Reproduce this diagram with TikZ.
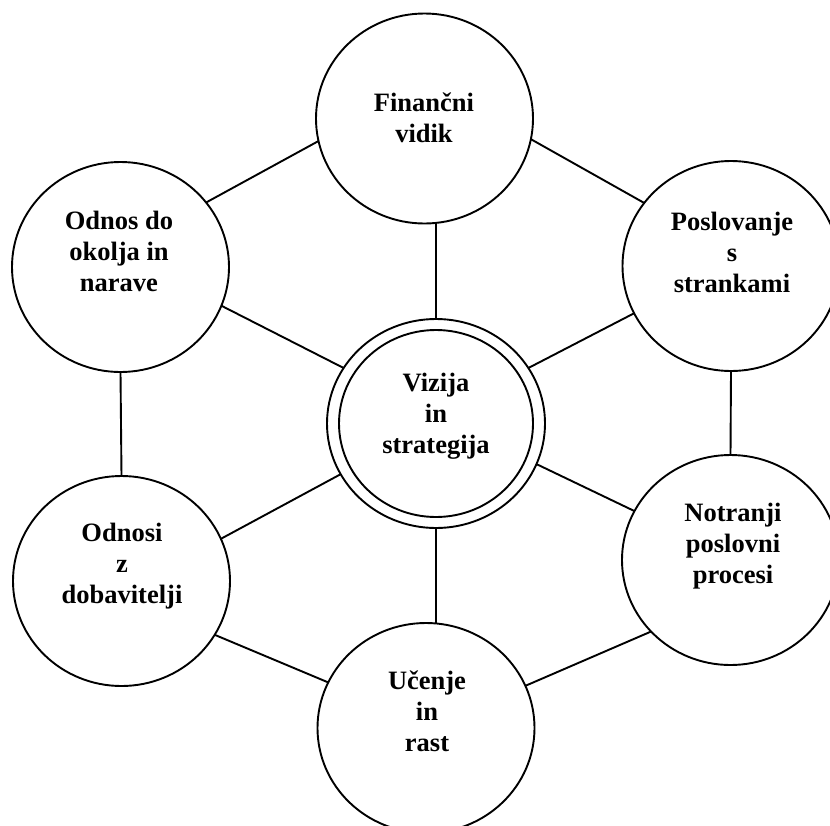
\documentclass[tikz,border=0pt]{standalone}
\usepackage{fontspec}
\setmainfont{Liberation Serif}
\usetikzlibrary{shapes.geometric}
\begin{document}
\begin{tikzpicture}[x=1pt,y=-1pt,
  persp/.style={ellipse, draw, line width=1.9pt, minimum width=217pt,
    minimum height=210pt, inner sep=0pt, outer sep=0pt},
  lbl/.style={align=center, font=\fontsize{26.5}{31}\selectfont\bfseries,
    inner sep=0pt},
  link/.style={line width=1.9pt}]
\useasboundingbox (0,0) rectangle (830,825);

% perspective circles
\node[persp] (fin)   at (424.5,118.5) {};
\node[persp] (env)   at (120.5,267)   {};
\node[persp] (cust)  at (731,266)     {};
\node[persp] (proc)  at (730.5,560)   {};
\node[persp] (supp)  at (121.5,581)   {};
\node[persp] (learn) at (426,728)     {};

% central double circle
\node[persp, minimum width=218pt, minimum height=209pt] (core) at (436,423.5) {};
\node[persp, minimum width=194pt, minimum height=187pt] (corein) at (core) {};

% labels
\node[lbl] (fin-t)   at (424,118) {Finančni\\vidik};
\node[lbl] (env-t)   at (119,251) {Odnos do\\okolja in\\narave};
\node[lbl] (cust-t)  at (732,252) {Poslovanje\\s\\strankami};
\node[lbl] (core-t)  at (436,416) {Vizija\\in\\strategija};
\node[lbl] (proc-t)  at (733,546) {Notranji\\poslovni\\procesi};
\node[lbl] (supp-t)  at (122,566) {Odnosi\\z\\dobavitelji};
\node[lbl] (learn-t) at (427,711) {Učenje\\in\\rast};

% outer ring
\draw[link] (fin.192) -- (env.37);
\draw[link] (fin.349) -- (cust.144);
\draw[link] (env.south) -- (supp.north);
\draw[link] (cust.south) -- (proc.north);
\draw[link] (supp.330) -- (learn.155);
\draw[link] (learn.23) -- (proc.222);

% spokes to the centre
\draw[link] (core.north) -- (core.north |- fin.south);
\draw[link] (core.south) -- (core.south |- learn.north);
\draw[link] (env.339) -- (core.149);
\draw[link] (cust.206) -- (core.31);
\draw[link] (core.338) -- (proc.153);
\draw[link] (core.208) -- (supp.23);
\end{tikzpicture}
\end{document}
